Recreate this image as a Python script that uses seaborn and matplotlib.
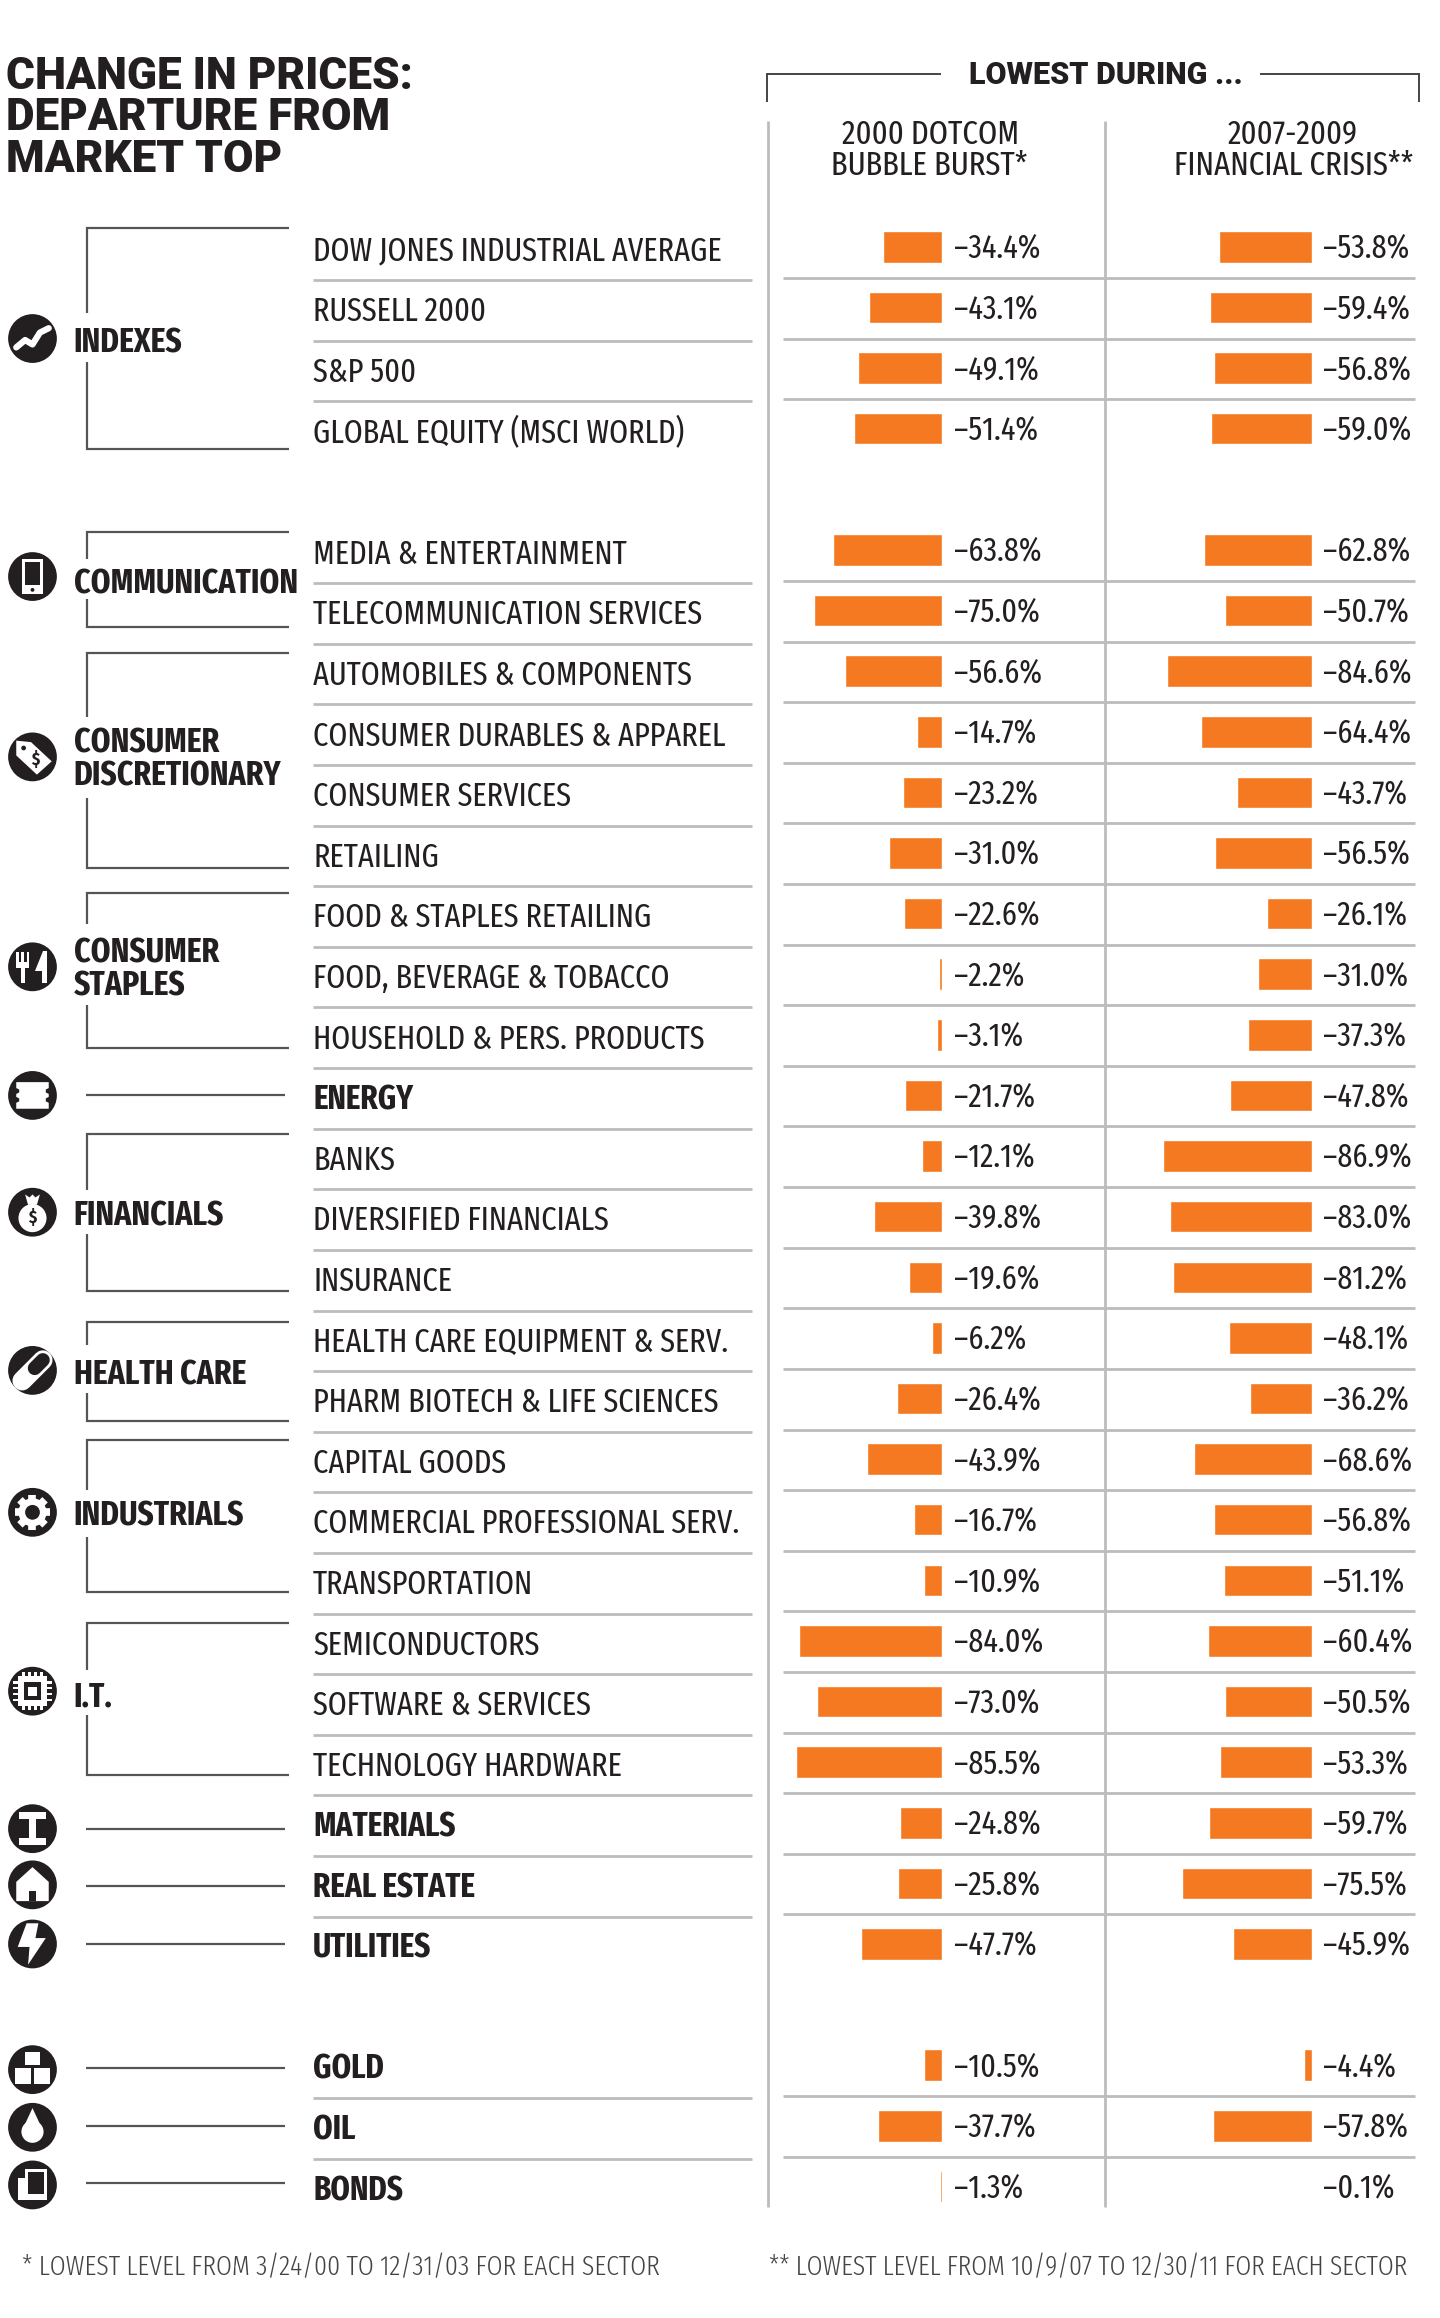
import matplotlib
matplotlib.use("Agg")
import matplotlib.pyplot as plt
from matplotlib.patches import Circle, Rectangle, Polygon
import pandas as pd
import seaborn as sns

# row index on the chart (gaps at 4 and 29 split the blocks)
rows = [0, 1, 2, 3] + list(range(5, 29)) + [30, 31, 32]
labels = ["DOW JONES INDUSTRIAL AVERAGE", "RUSSELL 2000", "S&P 500", "GLOBAL EQUITY (MSCI WORLD)",
          "MEDIA & ENTERTAINMENT", "TELECOMMUNICATION SERVICES", "AUTOMOBILES & COMPONENTS",
          "CONSUMER DURABLES & APPAREL", "CONSUMER SERVICES", "RETAILING", "FOOD & STAPLES RETAILING",
          "FOOD, BEVERAGE & TOBACCO", "HOUSEHOLD & PERS. PRODUCTS", "ENERGY", "BANKS",
          "DIVERSIFIED FINANCIALS", "INSURANCE", "HEALTH CARE EQUIPMENT & SERV.",
          "PHARM BIOTECH & LIFE SCIENCES", "CAPITAL GOODS", "COMMERCIAL PROFESSIONAL SERV.",
          "TRANSPORTATION", "SEMICONDUCTORS", "SOFTWARE & SERVICES", "TECHNOLOGY HARDWARE",
          "MATERIALS", "REAL ESTATE", "UTILITIES", "GOLD", "OIL", "BONDS"]
bold_labels = ["ENERGY", "MATERIALS", "REAL ESTATE", "UTILITIES", "GOLD", "OIL", "BONDS"]
dotcom = [-34.4, -43.1, -49.1, -51.4, -63.8, -75.0, -56.6, -14.7, -23.2, -31.0, -22.6, -2.2, -3.1,
          -21.7, -12.1, -39.8, -19.6, -6.2, -26.4, -43.9, -16.7, -10.9, -84.0, -73.0, -85.5,
          -24.8, -25.8, -47.7, -10.5, -37.7, -1.3]
crisis = [-53.8, -59.4, -56.8, -59.0, -62.8, -50.7, -84.6, -64.4, -43.7, -56.5, -26.1, -31.0, -37.3,
          -47.8, -86.9, -83.0, -81.2, -48.1, -36.2, -68.6, -56.8, -51.1, -60.4, -50.5, -53.3,
          -59.7, -75.5, -45.9, -4.4, -57.8, -0.1]

ORANGE = "#f47920"
DARK = "#231f20"
GRAY = "#bcbcc0"
W, H = 975, 1568  # working canvas, scaled up to 1440x2318

sns.set_theme(style="white")
narrow = ["Fira Sans Extra Condensed", "Roboto Condensed", "Roboto", "DejaVu Sans"]
heavy = ["Roboto", "DejaVu Sans"]
plt.rcParams["font.family"] = narrow

df = pd.DataFrame({"row": rows, "label": labels, "dotcom": dotcom, "crisis": crisis})

fig = plt.figure(figsize=(14.4, 23.18), dpi=100, facecolor="white")
bg = fig.add_axes([0, 0, 1, 1])
bg.set_xlim(0, W)
bg.set_ylim(H, 0)
bg.axis("off")


def txt(x, y, s, size=23.6, weight="normal", ha="left", color=DARK, **kw):
    bg.text(x, y, s, fontsize=size, fontweight=weight, ha=ha, va="center", color=color, **kw)


def line(xs, ys, color="#555555", lw=1.6):
    bg.plot(xs, ys, color=color, lw=lw, solid_capstyle="butt", solid_joinstyle="miter")


# bar panels
UNITS_PER_PCT = 1.158
Y0 = 167
PITCH = 41


def panel(col, x_left, x_right, x_zero):
    ax = fig.add_axes([x_left / W, 0, (x_right - x_left) / W, 1])
    ax.patch.set_alpha(0)
    sns.barplot(data=df, x=col, y="row", orient="h", native_scale=True, color=ORANGE,
                saturation=1, width=0.52, ax=ax, errorbar=None)
    ax.set_xlim((x_left - x_zero) / UNITS_PER_PCT, (x_right - x_zero) / UNITS_PER_PCT)
    ax.set_ylim((H - Y0) / PITCH, (0 - Y0) / PITCH)
    ax.axis("off")
    return ax


panel("dotcom", 520, 748, 638)
panel("crisis", 748, 975, 888)

# title + headers
for y, s in zip([52, 80, 108], ["CHANGE IN PRICES:", "DEPARTURE FROM", "MARKET TOP"]):
    txt(4, y, s, size=31.8, weight=900, family=heavy)
txt(749, 51, "LOWEST DURING ...", size=22, weight=900, ha="center", family=heavy)
txt(630, 91, "2000 DOTCOM", size=24, ha="center")
txt(629, 112, "BUBBLE BURST*", size=24, ha="center")
txt(875, 91, "2007-2009", size=24, ha="center")
txt(876, 112, "FINANCIAL CRISIS**", size=24, ha="center")
line([519.5, 519.5, 637], [69, 50, 50], color="#444444", lw=1.4)
line([853, 961, 961], [50, 50, 69], color="#444444", lw=1.4)

# vertical rules
for x in [520, 748]:
    line([x, x], [82, 1493], color=GRAY, lw=2)

# row labels, values, separators
for r, lab, a, b in zip(rows, labels, dotcom, crisis):
    y = Y0 + r * PITCH
    is_bold = lab in bold_labels
    txt(212, y + 3, lab, size=24.3 if is_bold else 23.7, weight="bold" if is_bold else "normal")
    txt(646, y + 1, f"\u2013{abs(a):.1f}%")
    txt(896, y + 1, f"\u2013{abs(b):.1f}%")
    if r in (3, 28, 32):
        continue
    line([212, 509], [y + 22.5, y + 22.5], color=GRAY, lw=2)
    line([530, 958], [y + 21, y + 21], color=GRAY, lw=2)

# group brackets: top, gap start, gap end, bottom
brackets = [(154, 212, 245, 304), (360, 378, 405, 424), (442, 485, 540, 587), (604, 625, 680, 709),
            (767, 805, 835, 873), (894, 910, 942, 961), (974, 1008, 1040, 1077), (1098, 1130, 1160, 1201)]
for top, g0, g1, bot in brackets:
    line([196, 59, 59], [top, top, g0])
    line([59, 59, 196], [g1, bot, bot])
for y in [741, 1237, 1276, 1315, 1399, 1438, 1477]:
    line([58, 193], [y, y])

group_text = [(232, "INDEXES"), (395, "COMMUNICATION"), (503, "CONSUMER"), (525, "DISCRETIONARY"),
              (645, "CONSUMER"), (667, "STAPLES"), (823, "FINANCIALS"), (930, "HEALTH CARE"),
              (1026, "INDUSTRIALS"), (1148, "I.T.")]
for y, s in group_text:
    txt(50, y, s, size=24.6, weight="bold")

# footnotes
txt(15, 1534, "* LOWEST LEVEL FROM 3/24/00 TO 12/31/03 FOR EACH SECTOR", size=20.1, weight=300, color="#444444")
txt(521, 1534, "** LOWEST LEVEL FROM 10/9/07 TO 12/30/11 FOR EACH SECTOR", size=19.95, weight=300, color="#444444")


# icons, rough glyphs on black discs
def rect(x, y, w, h, c="white"):
    bg.add_patch(Rectangle((x, y), w, h, fc=c, ec="none", zorder=6))


def poly(pts, c="white"):
    bg.add_patch(Polygon(pts, closed=True, fc=c, ec="none", zorder=6))


def dot(x, y, r, c="white"):
    bg.add_patch(Circle((x, y), r, fc=c, ec="none", zorder=6))


def stroke(xs, ys, lw, c="white", cap="round"):
    bg.plot(xs, ys, color=c, lw=lw, zorder=6, solid_capstyle=cap)


def icon(y, kind):
    x = 22
    bg.add_patch(Circle((x, y), 16.5, fc=DARK, ec="none", zorder=5))
    if kind == "index":
        stroke([x - 11, x - 5, x, x + 5, x + 11], [y + 6, y + 1, y + 4, y - 4, y - 7], 4.5)
    elif kind == "phone":
        rect(x - 7, y - 12, 14, 24)
        rect(x - 5, y - 10, 10, 16, DARK)
        dot(x, y + 9, 1.3, DARK)
    elif kind == "tag":
        poly([(x - 11, y - 11), (x - 1, y - 10), (x + 13, y + 3), (x + 3, y + 12), (x - 11, y - 1)])
        dot(x - 6, y - 6, 1.6, DARK)
        bg.text(x + 2, y + 2, "$", fontsize=13, fontweight="bold", color=DARK, ha="center", va="center", zorder=7)
    elif kind == "fork":
        for d in (-11, -7.5, -4):
            rect(x + d, y - 10, 1.8, 9)
        rect(x - 11, y - 3, 8.8, 4)
        rect(x - 7.8, y, 2.4, 11)
        poly([(x + 7, y - 11), (x + 10, y - 11), (x + 10, y + 11), (x + 6.5, y + 11), (x + 6.5, y + 3), (x + 2, y + 3)])
    elif kind == "barrel":
        poly([(x - 11, y - 9), (x + 11, y - 9), (x + 11, y - 5), (x + 9, y - 4), (x + 9, y - 2), (x + 11, y - 1),
              (x + 11, y + 1), (x + 9, y + 2), (x + 9, y + 4), (x + 11, y + 5), (x + 11, y + 9), (x - 11, y + 9),
              (x - 11, y + 5), (x - 9, y + 4), (x - 9, y + 2), (x - 11, y + 1), (x - 11, y - 1), (x - 9, y - 2),
              (x - 9, y - 4), (x - 11, y - 5)])
    elif kind == "bag":
        dot(x, y + 4, 9.5)
        poly([(x - 5, y - 12), (x - 2, y - 10), (x, y - 12), (x + 2, y - 10), (x + 5, y - 12), (x + 3, y - 5), (x - 3, y - 5)])
        bg.text(x, y + 4, "$", fontsize=13, fontweight="bold", color=DARK, ha="center", va="center", zorder=7)
    elif kind == "pill":
        stroke([x - 7, x + 7], [y + 7, y - 7], 14)
        stroke([x + 1.5, x + 7], [y - 1.5, y - 7], 10, c=DARK)
    elif kind == "gear":
        stroke([x - 12, x + 12], [y, y], 5.5, cap="butt")
        stroke([x, x], [y - 12, y + 12], 5.5, cap="butt")
        stroke([x - 8.5, x + 8.5], [y - 8.5, y + 8.5], 5.5, cap="butt")
        stroke([x - 8.5, x + 8.5], [y + 8.5, y - 8.5], 5.5, cap="butt")
        dot(x, y, 9.5)
        dot(x, y, 5, DARK)
    elif kind == "chip":
        for d in (-6, -2, 2, 6):
            rect(x + d - 0.8, y - 13, 1.6, 26)
            rect(x - 13, y + d - 0.8, 26, 1.6)
        rect(x - 10, y - 10, 20, 20)
        rect(x - 6, y - 6, 12, 12, DARK)
        rect(x - 3, y - 3, 6, 6)
    elif kind == "beam":
        rect(x - 9, y - 11, 18, 4.5)
        rect(x - 9, y + 6.5, 18, 4.5)
        rect(x - 2.5, y - 8, 5, 16)
    elif kind == "house":
        poly([(x, y - 12), (x + 11, y - 2), (x + 11, y + 11), (x - 11, y + 11), (x - 11, y - 2)])
        rect(x - 2.5, y + 4, 5, 7, DARK)
    elif kind == "bolt":
        poly([(x - 4, y - 14), (x - 10, y + 2), (x - 2, y + 2), (x - 3, y + 14), (x + 9, y - 4), (x + 2, y - 4), (x + 4, y - 14)])
    elif kind == "gold":
        rect(x - 5, y - 12, 10, 9)
        rect(x - 12, y - 1, 11, 10.5)
        rect(x + 1, y - 1, 11, 10.5)
    elif kind == "drop":
        poly([(x, y - 13), (x - 7, y + 2), (x + 7, y + 2)])
        dot(x, y + 3, 7.5)
    elif kind == "bond":
        rect(x - 10, y - 5, 10, 15)
        rect(x - 5, y - 11, 15, 21)
        rect(x - 3, y - 9, 11, 15, DARK)


icons = [(229, "index"), (390, "phone"), (512, "tag"), (654, "fork"), (741, "barrel"), (820, "bag"),
         (927, "pill"), (1023, "gear"), (1144, "chip"), (1237, "beam"), (1275, "house"), (1315, "bolt"),
         (1400, "gold"), (1439, "drop"), (1478, "bond")]
for y, kind in icons:
    icon(y, kind)

fig.savefig("out.png", dpi=100, facecolor="white")
